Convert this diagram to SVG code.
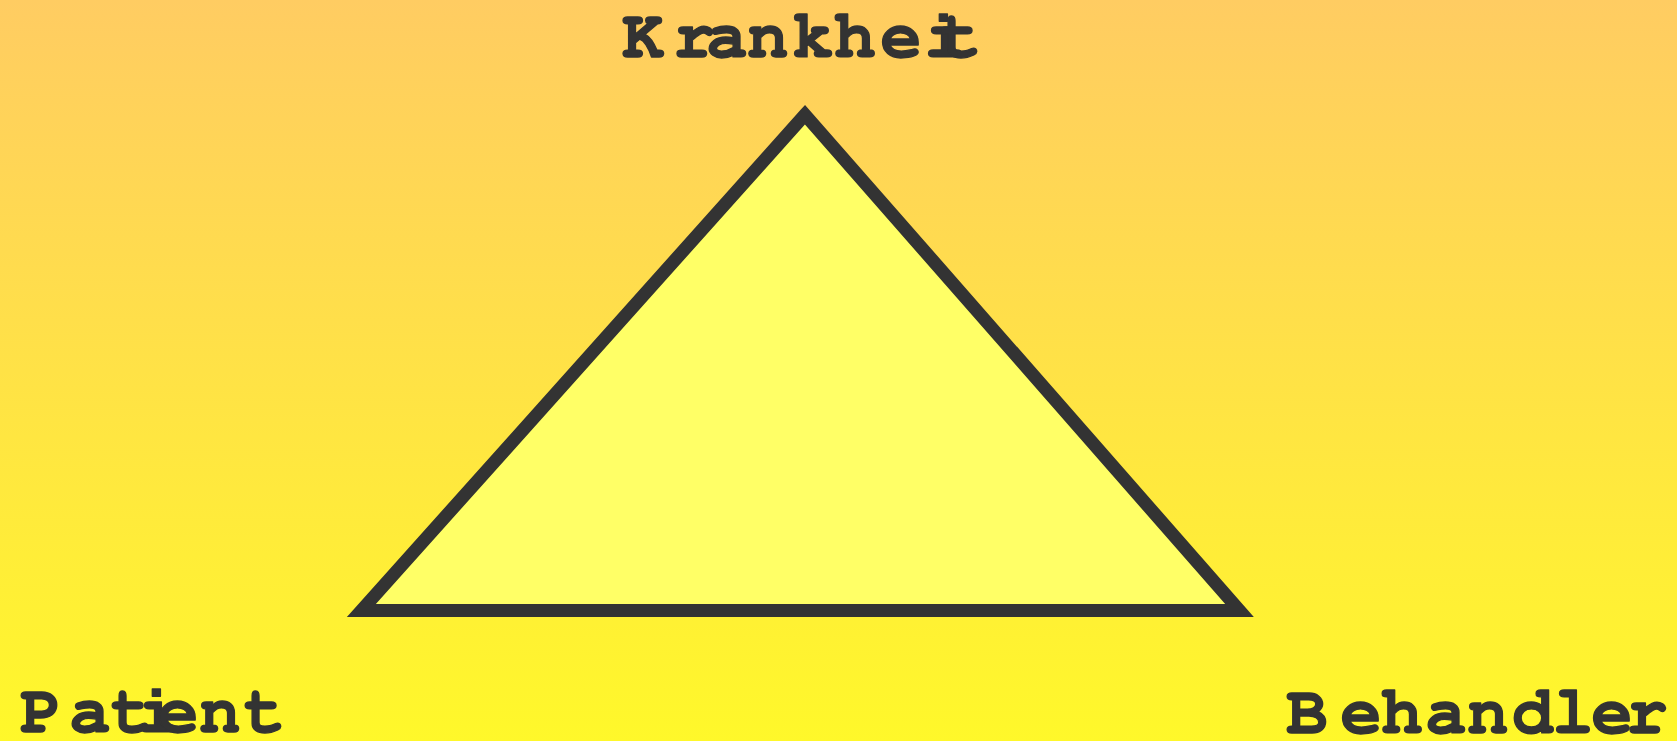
<svg xmlns="http://www.w3.org/2000/svg" width="1677" height="741" viewBox="0 0 1677 741">
<defs>
<linearGradient id="bg" x1="0" y1="0" x2="0" y2="1">
<stop offset="0" stop-color="#FFCC62"/>
<stop offset="1" stop-color="#FFF82A"/>
</linearGradient>
<style>
.lbl{font-family:"Nimbus Mono PS","FreeMono","Courier New","Liberation Mono",monospace;font-weight:bold;font-size:69px;fill:#333333;stroke:#333333;stroke-width:1.3;stroke-linejoin:round;text-anchor:middle}
.tri{fill:#FFFF66;stroke:#333333;stroke-width:13;stroke-linejoin:miter}
</style>
</defs>
<rect x="0" y="0" width="1677" height="741" fill="url(#bg)"/>
<g id="triangle">
<polygon class="tri" points="805,114.7 361.4,610.5 1239.5,610.5"/>
</g>
<g id="connectors"></g>
<g id="node-krankheit">
<text class="lbl" x="643 694 727 768 813 855 901 945 961" y="57">Krankheit</text>
</g>
<g id="node-patient">
<text class="lbl" x="41 90 132 158 178 220 265" y="732">Patient</text>
</g>
<g id="node-behandler">
<text class="lbl" x="1307 1361 1402 1446 1488 1533 1573 1612 1647" y="733">Behandler</text>
</g>
</svg>
